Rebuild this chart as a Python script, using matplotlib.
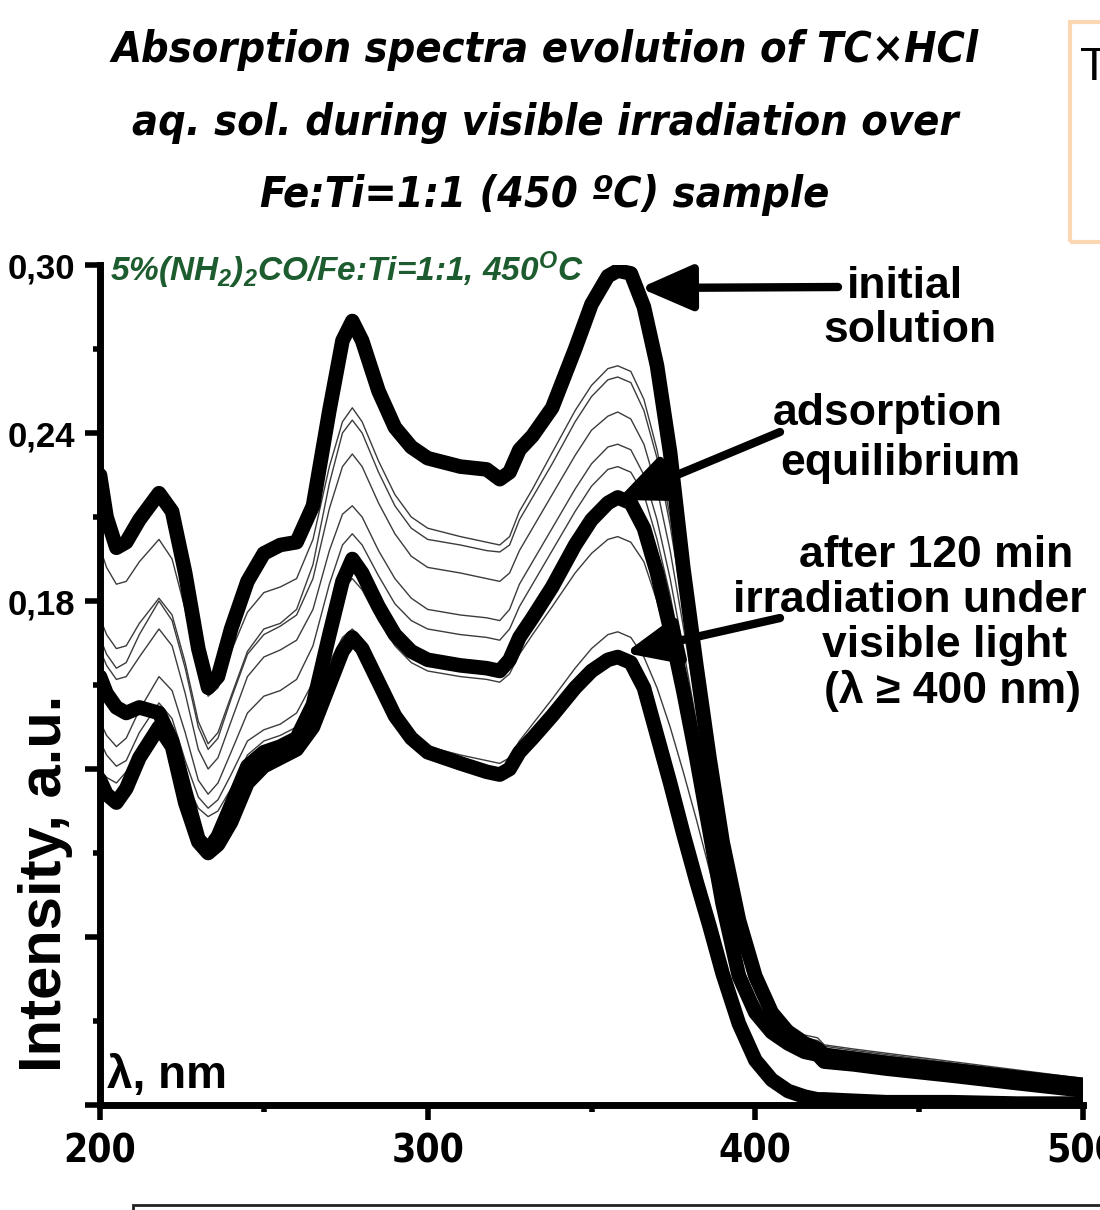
import matplotlib
matplotlib.use("Agg")
import matplotlib.pyplot as plt
from matplotlib.patches import Rectangle

plt.rcParams['font.family'] = ['Liberation Sans', 'DejaVu Sans']
plt.rcParams['mathtext.fontset'] = 'custom'
plt.rcParams['mathtext.rm'] = 'Liberation Sans:italic:bold'
plt.rcParams['mathtext.it'] = 'Liberation Sans:italic:bold'
plt.rcParams['mathtext.bf'] = 'Liberation Sans:italic:bold'

# wavelength grid, nm
wl = [200, 202, 205, 208, 212, 218, 222, 226, 230, 233, 236, 240, 245, 250, 255,
      260, 265, 270, 274, 277, 280, 285, 290, 295, 300, 310, 318, 322, 325, 328,
      332, 338, 345, 350, 355, 358, 362, 366, 370, 374, 378, 382, 386, 390, 395,
      400, 405, 410, 415, 419, 421, 430, 440, 460, 480, 500]

# thick curves
initial = [0.225, 0.210, 0.199, 0.201, 0.209, 0.2185, 0.212, 0.190, 0.163, 0.149, 0.153, 0.170, 0.187, 0.197, 0.200,
           0.201, 0.214, 0.248, 0.273, 0.280, 0.273, 0.255, 0.242, 0.235, 0.231, 0.228, 0.227, 0.2235, 0.226, 0.234,
           0.239, 0.249, 0.270, 0.286, 0.296, 0.298, 0.297, 0.285, 0.264, 0.233, 0.192, 0.157, 0.124, 0.094, 0.066,
           0.046, 0.033, 0.026, 0.022, 0.020, 0.018, 0.0165, 0.015, 0.0125, 0.0098, 0.0072]
equilibrium = [0.153, 0.147, 0.142, 0.140, 0.142, 0.140, 0.130, 0.112, 0.095, 0.091, 0.096, 0.107, 0.121, 0.126, 0.128,
               0.131, 0.143, 0.168, 0.187, 0.195, 0.190, 0.178, 0.168, 0.162, 0.159, 0.157, 0.156, 0.155, 0.159, 0.167,
               0.174, 0.185, 0.200, 0.209, 0.215, 0.217, 0.215, 0.206, 0.190, 0.170, 0.148, 0.124, 0.098, 0.072, 0.046,
               0.033, 0.026, 0.022, 0.019, 0.018, 0.0155, 0.0145, 0.013, 0.0105, 0.0078, 0.0052]
after120 = [0.116, 0.111, 0.108, 0.113, 0.124, 0.135, 0.128, 0.108, 0.094, 0.090, 0.093, 0.101, 0.115, 0.121, 0.124,
            0.127, 0.135, 0.150, 0.162, 0.167, 0.163, 0.151, 0.139, 0.131, 0.126, 0.122, 0.119, 0.118, 0.120, 0.126,
            0.131, 0.139, 0.149, 0.155, 0.159, 0.160, 0.158, 0.149, 0.132, 0.115, 0.097, 0.080, 0.064, 0.047, 0.029,
            0.016, 0.009, 0.005, 0.003, 0.002, 0.002, 0.0015, 0.001, 0.001, 0.0005, 0.0005]

# thin curves (intermediate spectra)
t1 = [0.199, 0.192, 0.186, 0.187, 0.194, 0.202, 0.195, 0.177, 0.155, 0.146, 0.149, 0.162, 0.176, 0.183, 0.185,
      0.188, 0.202, 0.228, 0.244, 0.249, 0.244, 0.230, 0.218, 0.210, 0.206, 0.203, 0.201, 0.200, 0.203, 0.212,
      0.220, 0.233, 0.248, 0.257, 0.263, 0.264, 0.262, 0.252, 0.234, 0.210, 0.180, 0.150, 0.120, 0.091, 0.064,
      0.046, 0.035, 0.029, 0.025, 0.024, 0.0215, 0.020, 0.0185, 0.0155, 0.0125, 0.0095]
t2 = [0.174, 0.168, 0.163, 0.164, 0.172, 0.181, 0.175, 0.158, 0.137, 0.129, 0.133, 0.146, 0.162, 0.170, 0.172,
      0.177, 0.193, 0.222, 0.240, 0.2446, 0.240, 0.226, 0.214, 0.206, 0.202, 0.200, 0.198, 0.1975, 0.200, 0.209,
      0.217, 0.229, 0.244, 0.253, 0.259, 0.260, 0.258, 0.248, 0.231, 0.207, 0.178, 0.148, 0.118, 0.090, 0.063,
      0.045, 0.034, 0.028, 0.024, 0.023, 0.021, 0.0195, 0.018, 0.015, 0.012, 0.009]
t3 = [0.167, 0.161, 0.156, 0.158, 0.168, 0.180, 0.173, 0.156, 0.135, 0.127, 0.131, 0.145, 0.161, 0.168, 0.171,
      0.175, 0.188, 0.213, 0.228, 0.2325, 0.228, 0.215, 0.204, 0.196, 0.192, 0.190, 0.188, 0.187, 0.190, 0.198,
      0.206, 0.218, 0.232, 0.241, 0.246, 0.2475, 0.245, 0.236, 0.220, 0.198, 0.171, 0.143, 0.115, 0.088, 0.062,
      0.044, 0.033, 0.027, 0.023, 0.022, 0.020, 0.019, 0.0175, 0.0145, 0.0115, 0.0088]
t4 = [0.1625, 0.157, 0.152, 0.153, 0.160, 0.170, 0.164, 0.147, 0.127, 0.120, 0.124, 0.137, 0.153, 0.160, 0.1625,
      0.166, 0.177, 0.198, 0.211, 0.214, 0.210, 0.198, 0.188, 0.181, 0.177, 0.175, 0.174, 0.173, 0.177, 0.186,
      0.194, 0.206, 0.220, 0.229, 0.235, 0.236, 0.234, 0.225, 0.209, 0.188, 0.163, 0.137, 0.110, 0.084, 0.059,
      0.042, 0.032, 0.026, 0.022, 0.021, 0.019, 0.018, 0.017, 0.014, 0.011, 0.0085]
t5 = [0.137, 0.132, 0.128, 0.131, 0.141, 0.153, 0.148, 0.133, 0.116, 0.111, 0.115, 0.126, 0.140, 0.146, 0.148,
      0.152, 0.164, 0.186, 0.200, 0.204, 0.200, 0.189, 0.179, 0.173, 0.170, 0.168, 0.167, 0.166, 0.170, 0.178,
      0.186, 0.198, 0.212, 0.221, 0.227, 0.228, 0.226, 0.218, 0.202, 0.182, 0.158, 0.133, 0.107, 0.082, 0.057,
      0.041, 0.031, 0.025, 0.021, 0.020, 0.018, 0.017, 0.016, 0.0135, 0.0105, 0.008]
t6 = [0.130, 0.125, 0.121, 0.123, 0.133, 0.1436, 0.138, 0.123, 0.110, 0.106, 0.109, 0.118, 0.130, 0.134, 0.136,
      0.140, 0.151, 0.171, 0.184, 0.188, 0.184, 0.173, 0.164, 0.158, 0.155, 0.153, 0.152, 0.151, 0.154, 0.161,
      0.168, 0.178, 0.190, 0.197, 0.202, 0.203, 0.201, 0.194, 0.180, 0.162, 0.142, 0.120, 0.097, 0.075, 0.052,
      0.038, 0.029, 0.024, 0.020, 0.019, 0.017, 0.016, 0.015, 0.0125, 0.0098, 0.0075]
t7 = [0.120, 0.117, 0.115, 0.119, 0.128, 0.1386, 0.132, 0.116, 0.106, 0.103, 0.105, 0.113, 0.125, 0.130, 0.132,
      0.135, 0.143, 0.158, 0.167, 0.170, 0.166, 0.153, 0.141, 0.133, 0.128, 0.125, 0.123, 0.122, 0.124, 0.130,
      0.136, 0.145, 0.156, 0.163, 0.168, 0.169, 0.167, 0.160, 0.149, 0.135, 0.119, 0.102, 0.084, 0.066, 0.047,
      0.035, 0.027, 0.022, 0.019, 0.018, 0.016, 0.015, 0.014, 0.012, 0.0095, 0.007]

xticks = [200, 300, 400, 500]
yticks = [0.0, 0.06, 0.12, 0.18, 0.24, 0.30]
ytick_labels = ['', '', '', '0,18', '0,24', '0,30']

W, H = 1100, 1210


def fx(px):
    return px / W


def fy(py):
    return 1 - py / H


def dx(px):
    return 200 + (px - 100) * 300 / 983


def dy(py):
    return (1105 - py) * 0.30 / 840


fig = plt.figure(figsize=(11, 12.1), dpi=100)
ax = fig.add_axes([fx(100), fy(1105), (1083 - 100) / W, (1105 - 265) / H])

for t in [t1, t2, t3, t4, t5, t6, t7]:
    ax.plot(wl, t, color='#3c3c3c', lw=1.0, zorder=2)
for c in [initial, equilibrium, after120]:
    ax.plot(wl, c, color='black', lw=10.5, solid_joinstyle='round',
            solid_capstyle='round', zorder=3)

ax.set_xlim(200, 500)
ax.set_ylim(0, 0.30)
for s in ['top', 'right']:
    ax.spines[s].set_visible(False)
for s in ['left', 'bottom']:
    ax.spines[s].set_linewidth(5)

ax.set_xticks(xticks)
ax.set_xticks([250, 350, 450], minor=True)
ax.set_yticks(yticks)
ax.set_yticks([0.03, 0.09, 0.15, 0.21, 0.27], minor=True)
ax.set_yticklabels(ytick_labels)
ax.set_xticklabels([str(v) for v in xticks])
ax.tick_params(which='major', direction='out', length=11, width=4, color='black')
ax.tick_params(which='minor', direction='out', length=5, width=4, color='black')
ax.tick_params(axis='x', pad=9)
ax.tick_params(axis='y', pad=7)
for lab in ax.get_xticklabels():
    lab.set_family(['DejaVu Sans'])
    lab.set_stretch('condensed')
    lab.set_fontweight('bold')
    lab.set_fontsize(28)
for lab in ax.get_yticklabels():
    lab.set_fontweight('bold')
    lab.set_fontsize(25)

# axis labels
fig.text(fx(46), fy(883), 'Intensity, a.u.', rotation=90, ha='center', va='center',
         fontsize=43, fontweight='bold')
ax.text(dx(107), dy(1088), 'λ, nm', ha='left', va='baseline', fontsize=33,
        fontweight='bold')

# sample label
ax.text(dx(110), dy(281), r'5%(NH$_2$)$_2$CO/Fe:Ti=1:1, 450$^{\mathrm{O}}$C',
        ha='left', va='baseline', fontsize=24, fontweight='bold',
        fontstyle='italic', color='#1d5c2e')

# title
title_lines = ['Absorption spectra evolution of TC×HCl',
               'aq. sol. during visible irradiation over',
               'Fe:Ti=1:1 (450 ºC) sample']
for line, base in zip(title_lines, [62, 135, 207]):
    fig.text(fx(545), fy(base), line, ha='center', va='baseline', fontsize=31,
             fontweight='heavy', fontstyle='italic', fontstretch='condensed',
             family=['DejaVu Sans'])

# annotations
notes = [('initial', 905, 298), ('solution', 910, 342),
         ('adsorption', 888, 425), ('equilibrium', 900, 475),
         ('after 120 min', 936, 567), ('irradiation under', 910, 612),
         ('visible light', 945, 657), ('(λ ≥ 400 nm)', 952, 703)]
for txt, px, py in notes:
    fig.text(fx(px), fy(py), txt, ha='center', va='baseline', fontsize=32,
             fontweight='bold')

arrows = [((640, 288), (838, 287)), ((617, 500), (780, 432)), ((625, 653), (780, 618))]
for tip, tail in arrows:
    ax.annotate('', xy=(dx(tip[0]), dy(tip[1])), xytext=(dx(tail[0]), dy(tail[1])),
                arrowprops=dict(arrowstyle='-|>,head_length=1.6,head_width=0.7',
                                lw=6, color='black', shrinkA=0, shrinkB=0,
                                mutation_scale=20), zorder=5)

# framing boxes cut at the figure edge
fig.patches.append(Rectangle((fx(1070), fy(242)), 0.2, (242 - 22) / H,
                             transform=fig.transFigure, fill=False,
                             edgecolor='#fcd7b4', lw=3))
fig.text(fx(1080), fy(80), 'T', ha='left', va='baseline', fontsize=34)
fig.patches.append(Rectangle((fx(133), fy(1300)), 1.0, (1300 - 1205) / H,
                             transform=fig.transFigure, fill=False,
                             edgecolor='#222222', lw=2))

fig.savefig('out.png', dpi=100)
